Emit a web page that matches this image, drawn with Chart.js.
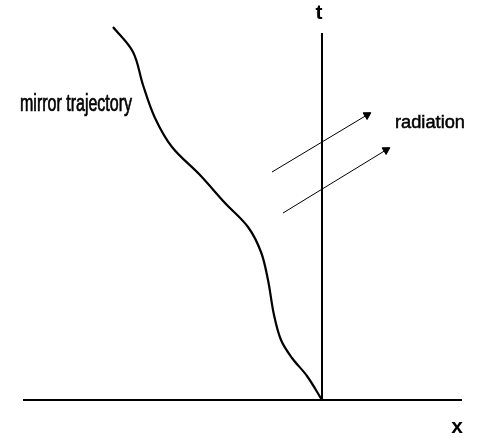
<!DOCTYPE html>
<html>
<head>
<meta charset="utf-8">
<script src="https://cdn.jsdelivr.net/npm/chart.js@4/dist/chart.umd.min.js"></script>
<style>
  html, body { margin: 0; padding: 0; background: #fff; }
  #wrap { width: 478px; height: 443px; }
</style>
</head>
<body>
<div id="wrap"><canvas id="diagram"></canvas></div>
<script>
// mirror trajectory x(t) (t axis at x = 0)
var mirrorX = [-2.09, -1.89, -1.79, -1.67, -1.50, -1.22, -0.97, -0.74, -0.61, -0.54, -0.48, -0.41, -0.30, -0.15, 0];
var mirrorT = [3.73, 3.48, 3.15, 2.82, 2.53, 2.25, 1.97, 1.73, 1.48, 1.20, 0.85, 0.60, 0.42, 0.24, 0];

// axes
var xAxisX = [-2.99, 1.40];
var tAxisT = [0, 3.67];

// radiation rays: start and end (x, t)
var ray1X = [-0.50, 0.45];
var ray1T = [2.28, 2.85];
var ray2X = [-0.39, 0.64];
var ray2T = [1.87, 2.50];

function pts(xs, ts) {
    return xs.map(function (x, i) { return { x: x, y: ts[i] }; });
}

var labelsPlugin = {
    id: 'labels',
    afterDatasetsDraw: function (chart) {
        var c = chart.ctx;
        var sx = chart.scales.x, sy = chart.scales.y;
        function put(text, x, t, font, width, align, heavy) {
            var px = sx.getPixelForValue(x), py = sy.getPixelForValue(t);
            c.save();
            c.font = font;
            c.fillStyle = '#000';
            c.strokeStyle = '#000';
            c.textBaseline = 'alphabetic';
            var w = c.measureText(text).width;
            var k = width ? width / w : 1;
            c.translate(px, py);
            c.scale(k, 1);
            c.textAlign = align;
            c.fillText(text, 0, 0);
            if (heavy) {
                c.lineWidth = heavy;
                c.strokeText(text, 0, 0);
            }
            c.restore();
        }
        put('mirror trajectory', -3.02, 2.89, '23px "Liberation Sans", Arial, sans-serif', 112, 'left', 0.7);
        put('radiation', 0.73, 2.72, '18px "Liberation Sans", Arial, sans-serif', 70, 'left', 0.5);
        put('t', -0.03, 3.81, 'bold 21px "Liberation Sans", Arial, sans-serif', 0, 'center');
        put('x', 1.35, -0.33, 'bold 21px "Liberation Sans", Arial, sans-serif', 0, 'center');
    }
};

var ctx = document.getElementById('diagram');
var myChart = new Chart(ctx, {
    type: 'scatter',
    data: {
        datasets: [{
            label: 'x axis',
            data: pts(xAxisX, [0, 0]),
            showLine: true,
            borderColor: '#000',
            borderWidth: 2,
            pointRadius: 0
        }, {
            label: 't axis',
            data: pts([0, 0], tAxisT),
            showLine: true,
            borderColor: '#000',
            borderWidth: 2,
            pointRadius: 0
        }, {
            label: 'mirror trajectory',
            data: pts(mirrorX, mirrorT),
            showLine: true,
            tension: 0.35,
            borderColor: '#000',
            borderWidth: 2.2,
            pointRadius: 0
        }, {
            label: 'radiation 1',
            data: pts(ray1X, ray1T),
            showLine: true,
            borderColor: '#000',
            borderWidth: 1,
            pointStyle: 'triangle',
            pointRadius: [0, 4.5],
            rotation: [0, 59],
            pointBackgroundColor: '#000',
            pointBorderColor: '#000',
            pointBorderWidth: 1
        }, {
            label: 'radiation 2',
            data: pts(ray2X, ray2T),
            showLine: true,
            borderColor: '#000',
            borderWidth: 1,
            pointStyle: 'triangle',
            pointRadius: [0, 4.5],
            rotation: [0, 58.5],
            pointBackgroundColor: '#000',
            pointBorderColor: '#000',
            pointBorderWidth: 1
        }]
    },
    options: {
        responsive: true,
        maintainAspectRatio: false,
        animation: false,
        layout: { padding: 0, autoPadding: false },
        plugins: {
            legend: { display: false },
            tooltip: { enabled: false }
        },
        scales: {
            x: { type: 'linear', min: -3.22, max: 1.56, display: false },
            y: { type: 'linear', min: -0.43, max: 4.00, display: false }
        }
    },
    plugins: [labelsPlugin]
});
</script>
</body>
</html>
